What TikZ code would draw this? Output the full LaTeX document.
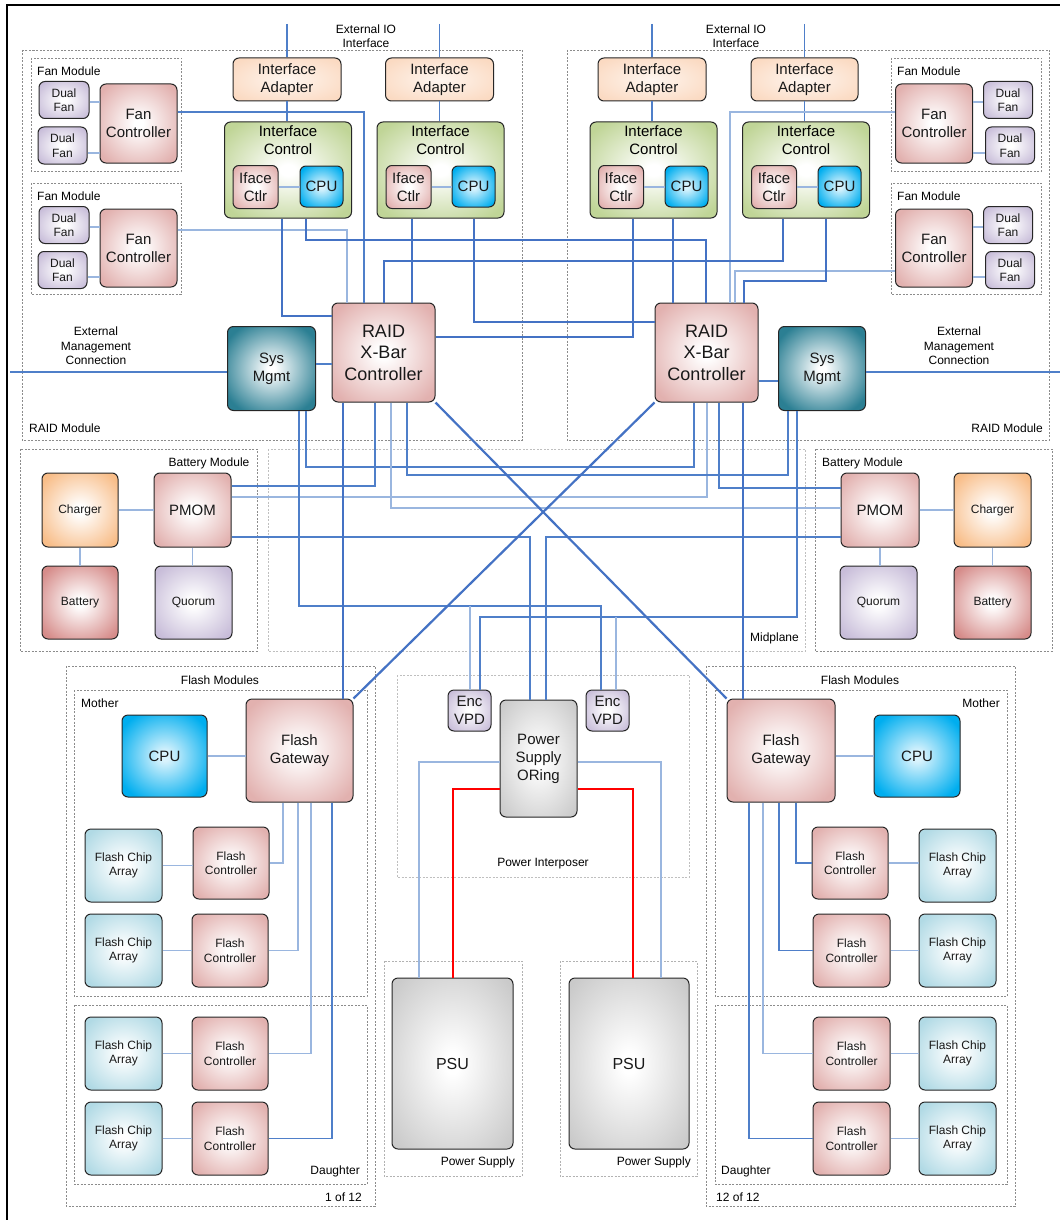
\documentclass[tikz,border=0pt]{standalone}
\usepackage{fontspec}
\setmainfont{Liberation Sans}
\usetikzlibrary{positioning}

\definecolor{pinkc}{HTML}{E2B1AF}
\definecolor{greenc}{HTML}{C0D597}
\definecolor{peachc}{HTML}{FBDAC2}
\definecolor{cpuc}{HTML}{00AEEF}
\definecolor{lavc}{HTML}{C8BDD9}
\definecolor{tealc}{HTML}{2B7F93}
\definecolor{chargec}{HTML}{F8BD88}
\definecolor{batc}{HTML}{D68C8A}
\definecolor{chipc}{HTML}{B1DAE5}
\definecolor{grayc}{HTML}{CACACA}
\definecolor{busc}{HTML}{4472C4}
\definecolor{linkc}{HTML}{4F7FC9}
\definecolor{palec}{HTML}{9AB6DF}

\pgfdeclareradialshading{pinkglow}{\pgfpoint{0bp}{0bp}}{color(0bp)=(white); color(3bp)=(white); color(31bp)=(pinkc); color(50bp)=(pinkc)}
\pgfdeclareradialshading{greenglow}{\pgfpoint{0bp}{0bp}}{color(0bp)=(white); color(3bp)=(white); color(31bp)=(greenc); color(50bp)=(greenc)}
\pgfdeclareradialshading{peachglow}{\pgfpoint{0bp}{0bp}}{color(0bp)=(peachc!25); color(31bp)=(peachc); color(50bp)=(peachc)}
\pgfdeclareradialshading{cpuglow}{\pgfpoint{0bp}{0bp}}{color(0bp)=(cpuc!15); color(3bp)=(cpuc!15); color(30bp)=(cpuc); color(50bp)=(cpuc)}
\pgfdeclareradialshading{lavglow}{\pgfpoint{0bp}{0bp}}{color(0bp)=(white); color(3bp)=(white); color(31bp)=(lavc); color(50bp)=(lavc)}
\pgfdeclareradialshading{tealglow}{\pgfpoint{0bp}{0bp}}{color(0bp)=(white); color(2bp)=(white); color(30bp)=(tealc); color(50bp)=(tealc)}
\pgfdeclareradialshading{chargeglow}{\pgfpoint{0bp}{0bp}}{color(0bp)=(white); color(3bp)=(white); color(31bp)=(chargec); color(50bp)=(chargec)}
\pgfdeclareradialshading{batglow}{\pgfpoint{0bp}{0bp}}{color(0bp)=(white); color(3bp)=(white); color(31bp)=(batc); color(50bp)=(batc)}
\pgfdeclareradialshading{chipglow}{\pgfpoint{0bp}{0bp}}{color(0bp)=(white); color(3bp)=(white); color(31bp)=(chipc); color(50bp)=(chipc)}
\pgfdeclareradialshading{grayglow}{\pgfpoint{0bp}{0bp}}{color(0bp)=(white); color(3bp)=(white); color(33bp)=(grayc); color(50bp)=(grayc)}

\newcommand{\raidfont}{\fontsize{18}{21.5}\selectfont}
\newcommand{\boxfont}{\fontsize{15}{18}\selectfont}
\newcommand{\lblfont}{\fontsize{12}{14.5}\selectfont}

\tikzstyle{blk} = [rectangle, rounded corners=6pt, draw=black!85, line width=1pt, align=center, inner sep=1pt, font=\boxfont, text=black!90]
\tikzstyle{pinkblk} = [blk, shade, shading=pinkglow]
\tikzstyle{ctrlblk} = [blk, shade, shading=greenglow]
\tikzstyle{adblk} = [blk, shade, shading=peachglow]
\tikzstyle{cpublk} = [blk, shade, shading=cpuglow]
\tikzstyle{lavblk} = [blk, shade, shading=lavglow]
\tikzstyle{sysblk} = [blk, shade, shading=tealglow]
\tikzstyle{chgblk} = [blk, shade, shading=chargeglow, font=\lblfont]
\tikzstyle{batblk} = [blk, shade, shading=batglow, font=\lblfont]
\tikzstyle{chipblk} = [blk, shade, shading=chipglow, font=\lblfont]
\tikzstyle{grayblk} = [blk, shade, shading=grayglow]
\tikzstyle{module} = [draw=black!45, dash pattern=on 2pt off 1.5pt, line width=0.6pt]
\tikzstyle{lbl} = [font=\lblfont, inner sep=1pt, align=center]
\tikzstyle{bus} = [draw=busc, line width=2.2pt]
\tikzstyle{link} = [draw=linkc, line width=1.1pt]
\tikzstyle{pale} = [draw=palec, line width=1.6pt]
\tikzstyle{power} = [draw=red, line width=2.8pt]

\begin{document}
\begin{tikzpicture}[x=1pt, y=-1pt]

    \fill[white] (0,0) rectangle (1060,1220);
    \useasboundingbox (0,0) rectangle (1060,1220);
    \draw[black, line width=1.2pt] (7,1220) -- (7,5) -- (1060,5);

    \draw[module] (22,50) rectangle (522,440);
    \draw[module] (567,50) rectangle (1049,440);
    \draw[module] (31,58) rectangle (181,171);
    \draw[module] (31,183) rectangle (181,294);
    \draw[module] (891,58) rectangle (1041,171);
    \draw[module] (891,183) rectangle (1041,294);
    \draw[module] (20,449) rectangle (257,651);
    \draw[module, draw=black!25] (268,449) rectangle (805,651);
    \draw[module] (815,449) rectangle (1052,651);
    \draw[module] (66,666) rectangle (375,1206);
    \draw[module] (74,690) rectangle (367,996);
    \draw[module] (74,1005) rectangle (367,1184);
    \draw[module] (706,666) rectangle (1015,1206);
    \draw[module] (715,690) rectangle (1007,996);
    \draw[module] (715,1005) rectangle (1007,1184);
    \draw[module, draw=black!25] (397,675) rectangle (689,877);
    \draw[module, draw=black!30] (384,961) rectangle (522,1176);
    \draw[module, draw=black!30] (560,961) rectangle (697,1176);

    \node (ioL) [lbl] at (366,36) {External IO\\Interface};
    \node (ioR) [lbl] at (736,36) {External IO\\Interface};
    \node (mgmtL) [lbl] at (96,346) {External\\Management\\Connection};
    \node (mgmtR) [lbl] at (959,346) {External\\Management\\Connection};
    \node (raidModLt) [lbl, anchor=west] at (28,428) {RAID Module};
    \node (raidModRt) [lbl, anchor=east] at (1044,428) {RAID Module};
    \node (fmL1t) [lbl, anchor=west] at (36,71) {Fan Module};
    \node (fmL2t) [lbl, anchor=west] at (36,196) {Fan Module};
    \node (fmR1t) [lbl, anchor=west] at (896,71) {Fan Module};
    \node (fmR2t) [lbl, anchor=west] at (896,196) {Fan Module};
    \node (bmLt) [lbl] at (209,463) {Battery Module};
    \node (bmRt) [lbl, anchor=west] at (821,463) {Battery Module};
    \node (midt) [lbl, anchor=east] at (800,638) {Midplane};
    \node (flLt) [lbl] at (220,680) {Flash Modules};
    \node (flRt) [lbl] at (860,680) {Flash Modules};
    \node (moLt) [lbl, anchor=west] at (80,703) {Mother};
    \node (moRt) [lbl, anchor=east] at (1001,703) {Mother};
    \node (daLt) [lbl, anchor=east] at (361,1171) {Daughter};
    \node (daRt) [lbl, anchor=west] at (720,1171) {Daughter};
    \node (cntL) [lbl, anchor=east] at (363,1197) {1 of 12};
    \node (cntR) [lbl, anchor=west] at (715,1197) {12 of 12};
    \node (pit) [lbl] at (543,864) {Power Interposer};
    \node (psLt) [lbl, anchor=east] at (516,1162) {Power Supply};
    \node (psRt) [lbl, anchor=east] at (692,1162) {Power Supply};

    \node (adL1) [adblk, minimum width=108, minimum height=43] at (287,79.5) {Interface\\Adapter};
    \node (adL2) [adblk, minimum width=108, minimum height=43] at (439.5,79.5) {Interface\\Adapter};
    \node (adR3) [adblk, minimum width=108, minimum height=43] at (652,79.5) {Interface\\Adapter};
    \node (adR4) [adblk, minimum width=107, minimum height=43] at (804.5,79.5) {Interface\\Adapter};

    \node (icL1) [ctrlblk, minimum width=127, minimum height=96] at (288,170) {};
    \node (icL2) [ctrlblk, minimum width=127, minimum height=96] at (440.5,170) {};
    \node (icR3) [ctrlblk, minimum width=127, minimum height=96] at (653.5,170) {};
    \node (icR4) [ctrlblk, minimum width=127, minimum height=96] at (806,170) {};
    \node (icL1t) [lbl, font=\boxfont, below=3pt of icL1.north] {Interface\\Control};
    \node (icL2t) [lbl, font=\boxfont, below=3pt of icL2.north] {Interface\\Control};
    \node (icR3t) [lbl, font=\boxfont, below=3pt of icR3.north] {Interface\\Control};
    \node (icR4t) [lbl, font=\boxfont, below=3pt of icR4.north] {Interface\\Control};

    \node (ifL1) [pinkblk, minimum width=45, minimum height=43] at (255.5,187) {Iface\\Ctlr};
    \node (cpuL1) [cpublk, minimum width=43, minimum height=41] at (321.5,186.5) {CPU};
    \node (ifL2) [pinkblk, minimum width=45, minimum height=43] at (408.5,187) {Iface\\Ctlr};
    \node (cpuL2) [cpublk, minimum width=43, minimum height=41] at (473.5,186.5) {CPU};
    \node (ifR3) [pinkblk, minimum width=45, minimum height=43] at (621,187) {Iface\\Ctlr};
    \node (cpuR3) [cpublk, minimum width=43, minimum height=41] at (686.5,186.5) {CPU};
    \node (ifR4) [pinkblk, minimum width=45, minimum height=43] at (774,187) {Iface\\Ctlr};
    \node (cpuR4) [cpublk, minimum width=43, minimum height=41] at (839.5,186.5) {CPU};

    \node (fanL1) [pinkblk, minimum width=77, minimum height=79] at (138.5,123.5) {Fan\\Controller};
    \node (dfL1a) [lavblk, font=\lblfont, minimum width=50, minimum height=37] at (64,100) {Dual\\Fan};
    \node (dfL1b) [lavblk, font=\lblfont, minimum width=49, minimum height=37] at (62.5,145.5) {Dual\\Fan};
    \node (fanL2) [pinkblk, minimum width=77, minimum height=78] at (138.5,248) {Fan\\Controller};
    \node (dfL2a) [lavblk, font=\lblfont, minimum width=50, minimum height=37] at (64,225) {Dual\\Fan};
    \node (dfL2b) [lavblk, font=\lblfont, minimum width=49, minimum height=37] at (62.5,270) {Dual\\Fan};
    \node (fanR1) [pinkblk, minimum width=77, minimum height=79] at (934,123.5) {Fan\\Controller};
    \node (dfR1a) [lavblk, font=\lblfont, minimum width=49, minimum height=37] at (1008,100) {Dual\\Fan};
    \node (dfR1b) [lavblk, font=\lblfont, minimum width=49, minimum height=37] at (1010,145.5) {Dual\\Fan};
    \node (fanR2) [pinkblk, minimum width=77, minimum height=78] at (934,248) {Fan\\Controller};
    \node (dfR2a) [lavblk, font=\lblfont, minimum width=49, minimum height=37] at (1008,225) {Dual\\Fan};
    \node (dfR2b) [lavblk, font=\lblfont, minimum width=49, minimum height=37] at (1010,270) {Dual\\Fan};

    \node (raidL) [pinkblk, font=\raidfont, minimum width=103, minimum height=99] at (383.5,352.5) {RAID\\X-Bar\\Controller};
    \node (raidR) [pinkblk, font=\raidfont, minimum width=103, minimum height=99] at (706.5,352.5) {RAID\\X-Bar\\Controller};
    \node (sysL) [sysblk, minimum width=88, minimum height=84] at (271.5,368.5) {Sys\\Mgmt};
    \node (sysR) [sysblk, minimum width=87, minimum height=84] at (822,368.5) {Sys\\Mgmt};

    \node (pmomL) [pinkblk, minimum width=77, minimum height=74] at (192.5,510) {PMOM};
    \node (chgL) [chgblk, minimum width=76, minimum height=74] at (80,510) {Charger};
    \node (batL) [batblk, minimum width=76, minimum height=73] at (80,602.5) {Battery};
    \node (quoL) [lavblk, font=\lblfont, minimum width=77, minimum height=73] at (193.5,602.5) {Quorum};
    \node (pmomR) [pinkblk, minimum width=78, minimum height=74] at (880,510) {PMOM};
    \node (chgR) [chgblk, minimum width=77, minimum height=74] at (992.5,510) {Charger};
    \node (quoR) [lavblk, font=\lblfont, minimum width=77, minimum height=73] at (878.5,602.5) {Quorum};
    \node (batR) [batblk, minimum width=77, minimum height=73] at (992.5,602.5) {Battery};

    \node (fgL) [pinkblk, minimum width=107, minimum height=103] at (299.5,750.5) {Flash\\Gateway};
    \node (cpuFL) [cpublk, minimum width=85, minimum height=82] at (164.5,756) {CPU};
    \node (fcL1) [pinkblk, font=\lblfont, minimum width=76, minimum height=72] at (231,863) {Flash\\Controller};
    \node (fcL2) [pinkblk, font=\lblfont, minimum width=76, minimum height=73] at (230,950.5) {Flash\\Controller};
    \node (fcL3) [pinkblk, font=\lblfont, minimum width=76, minimum height=73] at (230,1053.5) {Flash\\Controller};
    \node (fcL4) [pinkblk, font=\lblfont, minimum width=76, minimum height=73] at (230,1138.5) {Flash\\Controller};
    \node (fcaL1) [chipblk, minimum width=77, minimum height=73] at (123.5,865.5) {Flash Chip\\Array};
    \node (fcaL2) [chipblk, minimum width=77, minimum height=73] at (123.5,950.5) {Flash Chip\\Array};
    \node (fcaL3) [chipblk, minimum width=77, minimum height=73] at (123.5,1053.5) {Flash Chip\\Array};
    \node (fcaL4) [chipblk, minimum width=77, minimum height=73] at (123.5,1138.5) {Flash Chip\\Array};

    \node (fgR) [pinkblk, minimum width=108, minimum height=103] at (781,750.5) {Flash\\Gateway};
    \node (cpuFR) [cpublk, minimum width=86, minimum height=82] at (917,756) {CPU};
    \node (fcR1) [pinkblk, font=\lblfont, minimum width=76, minimum height=72] at (850,863) {Flash\\Controller};
    \node (fcR2) [pinkblk, font=\lblfont, minimum width=77, minimum height=73] at (851.5,950.5) {Flash\\Controller};
    \node (fcR3) [pinkblk, font=\lblfont, minimum width=77, minimum height=73] at (851.5,1053.5) {Flash\\Controller};
    \node (fcR4) [pinkblk, font=\lblfont, minimum width=77, minimum height=73] at (851.5,1138.5) {Flash\\Controller};
    \node (fcaR1) [chipblk, minimum width=77, minimum height=73] at (957.5,865.5) {Flash Chip\\Array};
    \node (fcaR2) [chipblk, minimum width=77, minimum height=73] at (957.5,950.5) {Flash Chip\\Array};
    \node (fcaR3) [chipblk, minimum width=77, minimum height=73] at (957.5,1053.5) {Flash Chip\\Array};
    \node (fcaR4) [chipblk, minimum width=77, minimum height=73] at (957.5,1138.5) {Flash Chip\\Array};

    \node (encL) [lavblk, minimum width=43, minimum height=41] at (469.5,710.5) {Enc\\VPD};
    \node (encR) [lavblk, minimum width=43, minimum height=41] at (607.5,710.5) {Enc\\VPD};
    \node (psor) [grayblk, minimum width=77, minimum height=117] at (538.5,758.5) {Power\\Supply\\ORing};
    \node (psuL) [grayblk, font=\fontsize{16}{19}\selectfont, minimum width=121, minimum height=171] at (452.5,1063.5) {PSU};
    \node (psuR) [grayblk, font=\fontsize{16}{19}\selectfont, minimum width=120, minimum height=171] at (629,1063.5) {PSU};

    \coordinate (topL1) at (287,24);
    \coordinate (topL2) at (439.5,24);
    \coordinate (topR3) at (652,24);
    \coordinate (topR4) at (804.5,24);
    \coordinate (extL) at (10,372);
    \coordinate (extR) at (1060,372);
    \coordinate (tapL) at (470,606);
    \coordinate (tapR) at (616,617);

    \draw [link] (topL1) -- (adL1.north);
    \draw [link] (topL2) -- (adL2.north);
    \draw [link] (topR3) -- (adR3.north);
    \draw [link] (topR4) -- (adR4.north);
    \draw [link] (adL1.south) -- (icL1.north -| adL1.south);
    \draw [link] (adL2.south) -- (icL2.north -| adL2.south);
    \draw [link] (adR3.south) -- (icR3.north -| adR3.south);
    \draw [link] (adR4.south) -- (icR4.north -| adR4.south);
    \draw [pale, line width=1.1pt] (ifL1.east) -- (cpuL1.west |- ifL1.east);
    \draw [pale, line width=1.1pt] (ifL2.east) -- (cpuL2.west |- ifL2.east);
    \draw [pale, line width=1.1pt] (ifR3.east) -- (cpuR3.west |- ifR3.east);
    \draw [pale, line width=1.1pt] (ifR4.east) -- (cpuR4.west |- ifR4.east);

    \draw [pale] (dfL1a.east |- 0,102) -- (fanL1.west |- 0,102);
    \draw [pale] (dfL1b.east |- 0,153) -- (fanL1.west |- 0,153);
    \draw [pale] (dfL2a.east |- 0,227) -- (fanL2.west |- 0,227);
    \draw [pale] (dfL2b.east |- 0,277) -- (fanL2.west |- 0,277);
    \draw [pale] (fanR1.east |- 0,102) -- (dfR1a.west |- 0,102);
    \draw [pale] (fanR1.east |- 0,153) -- (dfR1b.west |- 0,153);
    \draw [pale] (fanR2.east |- 0,227) -- (dfR2a.west |- 0,227);
    \draw [pale] (fanR2.east |- 0,277) -- (dfR2b.west |- 0,277);

    \draw [link] (fanL1.east |- 0,112) -| (raidL.north -| 364,0);
    \draw [pale] (fanL2.east |- 0,230) -| (raidL.north -| 347,0);
    \draw [pale] (fanR1.west |- 0,112) -| (raidR.north -| 730,0);
    \draw [pale] (fanR2.west |- 0,271) -| (raidR.north -| 735,0);

    \draw [bus] (icL1.south -| 282,0) |- (raidL.west |- 0,316);
    \draw [bus] (icL1.south -| 306,0) -- (306,240) -| (raidR.north -| 706,0);
    \draw [bus] (icL2.south -| 412,0) -- (raidL.north -| 412,0);
    \draw [bus] (icL2.south -| 474,0) |- (raidR.west |- 0,322);
    \draw [bus] (icR3.south -| 633,0) |- (raidL.east |- 0,337);
    \draw [bus] (icR3.south -| 673,0) -- (raidR.north -| 673,0);
    \draw [bus] (icR4.south -| 783,0) -- (783,261) -| (raidL.north -| 384,0);
    \draw [bus] (icR4.south -| 826,0) -- (826,281) -| (raidR.north -| 744,0);

    \draw [link] (extL) -- (sysL.west |- extL);
    \draw [link] (sysL.east |- 0,364) -- (raidL.west |- 0,364);
    \draw [link] (raidR.east |- 0,381) -- (sysR.west |- 0,381);
    \draw [link] (sysR.east |- extR) -- (extR);

    \draw [link] (sysL.south -| 306,0) -- (306,467) -| (raidR.south -| 694,0);
    \draw [link] (raidL.south -| 375,0) |- (pmomL.east |- 0,486);
    \draw [pale] (pmomL.east |- 0,497) -| (raidR.south -| 707,0);
    \draw [pale] (raidL.south -| 391,0) |- (pmomR.west |- 0,508);
    \draw [link] (raidL.south -| 407,0) -- (407,475) -| (sysR.south -| 788,0);
    \draw [link] (raidR.south -| 719,0) |- (pmomR.west |- 0,488);
    \draw [link] (pmomL.east |- 0,537) -| (psor.north -| 530,0);
    \draw [link] (pmomR.west |- 0,537) -| (psor.north -| 546,0);
    \draw [link] (sysL.south -| 299,0) -- (299,606) -| (encR.north -| 601,0);
    \draw [pale] (tapL) -- (encL.north -| tapL);
    \draw [link] (sysR.south -| 797,0) -- (797,617) -| (encL.north -| 480,0);
    \draw [pale] (tapR) -- (encR.north -| tapR);

    \draw [bus] (raidL.south -| 343,0) -- (fgL.north -| 343,0);
    \draw [bus] (raidL.south east) -- (fgR.north west);
    \draw [bus] (raidR.south west) -- (fgL.north east);
    \draw [bus] (raidR.south -| 743,0) -- (fgR.north -| 743,0);

    \draw [pale] (chgL) -- (pmomL);
    \draw [pale] (chgL) -- (batL);
    \draw [pale] (pmomL.south) -- (quoL.north -| pmomL.south);
    \draw [pale] (pmomR) -- (chgR);
    \draw [pale] (chgR) -- (batR);
    \draw [pale] (pmomR.south) -- (quoR.north -| pmomR.south);

    \draw [pale] (cpuFL) -- (fgL.west |- cpuFL);
    \draw [pale] (fgL.south -| 283,0) |- (fcL1.east);
    \draw [pale] (fgL.south -| 298,0) |- (fcL2.east);
    \draw [pale] (fgL.south -| 311,0) |- (fcL3.east);
    \draw [link] (fgL.south -| 332,0) |- (fcL4.east);
    \draw [pale] (fcaL1.east) -- (fcL1.west |- fcaL1.east);
    \draw [pale] (fcaL2.east) -- (fcL2.west |- fcaL2.east);
    \draw [pale] (fcaL3.east) -- (fcL3.west |- fcaL3.east);
    \draw [pale] (fcaL4.east) -- (fcL4.west |- fcaL4.east);

    \draw [pale] (fgR.east |- cpuFR) -- (cpuFR);
    \draw [link] (fgR.south -| 796,0) |- (fcR1.west);
    \draw [link] (fgR.south -| 779,0) |- (fcR2.west);
    \draw [pale] (fgR.south -| 763,0) |- (fcR3.west);
    \draw [link] (fgR.south -| 749,0) |- (fcR4.west);
    \draw [pale] (fcR1.east) -- (fcaR1.west |- fcR1.east);
    \draw [pale] (fcR2.east) -- (fcaR2.west |- fcR2.east);
    \draw [pale] (fcR3.east) -- (fcaR3.west |- fcR3.east);
    \draw [pale] (fcR4.east) -- (fcaR4.west |- fcR4.east);

    \draw [pale, line width=1.2pt] (psor.west |- 0,762) -| (psuL.north -| 419,0);
    \draw [pale, line width=1.2pt] (psor.east |- 0,762) -| (psuR.north -| 661,0);
    \draw [power] (psor.west |- 0,789) -| (psuL.north -| 453,0);
    \draw [power] (psor.east |- 0,789) -| (psuR.north -| 633,0);

\end{tikzpicture}
\end{document}
